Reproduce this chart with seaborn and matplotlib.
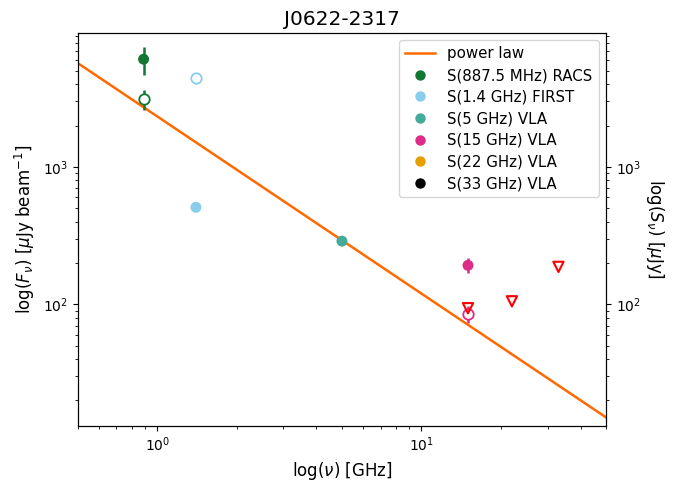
import numpy as np
import pandas as pd
import matplotlib
matplotlib.use("Agg")
import matplotlib.pyplot as plt
import seaborn as sns
from matplotlib.lines import Line2D

# ---- data ----
title = "J0622-2317"
labels = ["S(887.5 MHz) RACS", "S(1.4 GHz) FIRST", "S(5 GHz) VLA",
          "S(15 GHz) VLA", "S(22 GHz) VLA", "S(33 GHz) VLA"]
colors = ["#117733", "#88CCEE", "#44AA99", "#DD2C87", "#E69F00", "#000000"]

# peak flux (filled, left axis) [uJy/beam]
peak_freq = [0.8875, 1.4, 5.0, 15.0]
peak_flux = [6080, 508, 288, 192]
peak_err = [1400, 0, 0, 24]
peak_col = [0, 1, 2, 3]

# integrated flux (open circles) [uJy]
int_freq = [0.8875, 1.4, 15.0]
int_flux = [3110, 4450, 84.5]
int_err = [500, 0, 12]
int_col = [0, 1, 3]

# upper limits (red triangles)
lim_freq = [15.0, 22.0, 33.0]
lim_flux = [93.5, 105, 187]

# power law fit
pl_alpha = -1.29
pl_s1 = 2330.0
xlim = (0.5, 50)
ylim = (13, 9450)

# ---- figure ----
plt.rcParams['font.family'] = ['DejaVu Sans']
fig = plt.figure(figsize=(6.88, 4.84), dpi=100)
ax = fig.add_axes([0.113, 0.12, 0.768, 0.812])

nu = np.logspace(np.log10(xlim[0]), np.log10(xlim[1]), 200)
df_pl = pd.DataFrame({"nu": nu, "S": pl_s1 * nu ** pl_alpha})
sns.lineplot(data=df_pl, x="nu", y="S", ax=ax, color="#ff6a00", lw=1.8,
             label="power law", legend=False)

for f, s, e, ci in zip(peak_freq, peak_flux, peak_err, peak_col):
    if e > 0:
        ax.errorbar([f], [s], yerr=[e], fmt="none", ecolor=colors[ci], elinewidth=1.8,
                    zorder=3)
for f, s, e, ci in zip(int_freq, int_flux, int_err, int_col):
    ax.errorbar([f], [s], yerr=[e] if e > 0 else None, fmt="o", ms=7.5, mfc="white",
                mec=colors[ci], mew=1.3, ecolor=colors[ci], elinewidth=1.8, zorder=3)

ax.scatter(lim_freq, lim_flux, marker="v", s=55, facecolor="none",
           edgecolor="red", linewidths=1.5, zorder=4)

df_pk = pd.DataFrame({"nu": peak_freq, "S": peak_flux,
                      "lab": [labels[i] for i in peak_col]})
sns.scatterplot(data=df_pk, x="nu", y="S", hue="lab",
                palette={labels[i]: colors[i] for i in peak_col},
                s=62, edgecolor="none", ax=ax, zorder=5, legend=False)

ax.set_xscale("log")
ax.set_yscale("log")
ax.set_xlim(*xlim)
ax.set_ylim(*ylim)

# legend
handles = [Line2D([], [], color="#ff6a00", lw=1.8, label="power law")]
for lab, c in zip(labels, colors):
    handles.append(Line2D([], [], ls="none", marker="o", ms=7.5, color=c,
                          mec="none", label=lab))
ax.legend(handles=handles, loc="upper right", fontsize=10.8, frameon=True,
          labelspacing=0.44)

ax.set_xlabel(r"log($\nu$) [GHz]", fontsize=12)
ax.set_ylabel(r"log($F_{\nu}$) [$\mu$Jy beam$^{-1}$]", fontsize=12)
ax.set_title(title, fontsize=14.5)

ax2 = ax.twinx()
ax2.set_yscale("log")
ax2.set_ylim(*ylim)
ax2.set_ylabel(r"log($S_{\nu}$) [$\mu$Jy]", fontsize=12, rotation=270, labelpad=18)

fig.savefig("out.png", dpi=100)
